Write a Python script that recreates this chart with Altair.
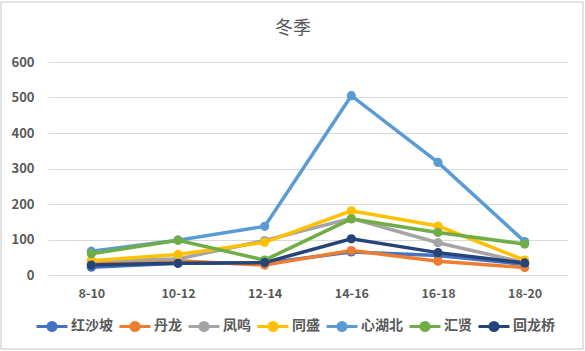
import altair as alt
import pandas as pd

periods = ["8-10", "10-12", "12-14", "14-16", "16-18", "18-20"]
series_names = ["红沙坡", "丹龙", "凤鸣", "同盛", "心湖北", "汇贤", "回龙桥"]
values = {
    "红沙坡": [22, 33, 33, 65, 55, 30],
    "丹龙": [30, 40, 28, 69, 39, 21],
    "凤鸣": [40, 45, 97, 160, 91, 35],
    "同盛": [40, 58, 92, 181, 138, 42],
    "心湖北": [67, 98, 137, 505, 317, 94],
    "汇贤": [60, 98, 42, 158, 120, 87],
    "回龙桥": [28, 33, 35, 102, 63, 34],
}
colors = ["#4472C4", "#ED7D31", "#A5A5A5", "#FFC000", "#5B9BD5", "#70AD47", "#264478"]

rows = []
for s in series_names:
    for i, (p, v) in enumerate(zip(periods, values[s])):
        rows.append({"时段": p, "序": i, "站点": s, "值": v})
df = pd.DataFrame(rows)

font = "Noto Sans CJK SC"
color_enc = alt.Color(
    "站点:N",
    scale=alt.Scale(domain=series_names, range=colors),
    sort=series_names,
    legend=alt.Legend(
        title=None,
        orient="none",
        direction="horizontal",
        legendX=-13,
        legendY=247,
        columns=7,
        symbolType="M-1,0H1 M-0.26,0A0.26,0.26 0 1,1 0.26,0A0.26,0.26 0 1,1 -0.26,0Z",
        symbolSize=960,
        symbolStrokeWidth=3,
        symbolOpacity=1,
        labelFont=font,
        labelFontSize=14,
        labelColor="#595959",
        labelFontWeight="bold",
        columnPadding=0,
        symbolOffset=0,
        labelOffset=2,
        padding=0,
    ),
)

x_enc = alt.X(
    "时段:N",
    sort=periods,
    scale=alt.Scale(domain=periods, paddingInner=0, paddingOuter=0.5),
    axis=alt.Axis(
        title=None, labelAngle=0, domain=False, ticks=False, grid=False,
        labelFont=font, labelFontSize=12.5, labelColor="#595959",
        labelFontWeight="bold", labelPadding=12,
    ),
)
y_enc = alt.Y(
    "值:Q",
    scale=alt.Scale(domain=[0, 600], nice=False),
    axis=alt.Axis(
        title=None, values=[0, 100, 200, 300, 400, 500, 600], domain=False,
        ticks=False, gridColor="#d9d9d9", gridWidth=1.2,
        labelFont=font, labelFontSize=13, labelColor="#595959",
        labelFontWeight="bold", labelPadding=14,
    ),
)

base = alt.Chart(df).encode(x=x_enc, y=y_enc, color=color_enc, order=alt.Order("序:Q"))
lines = base.mark_line(strokeWidth=3.5)
points = base.mark_point(filled=True, size=85, opacity=1)

frame = alt.Chart(pd.DataFrame({"a": [0]})).mark_rect(
    fill=None, stroke="#d9d9d9", strokeWidth=1.5
).encode(
    x=alt.value(-47), x2=alt.value(535), y=alt.value(-60), y2=alt.value(287)
)

chart = alt.layer(frame, lines, points).properties(
    width=520,
    height=213,
    title=alt.TitleParams("冬季", font=font, fontSize=18, color="#595959",
                          fontWeight="normal", anchor="middle", offset=-37, dx=-15),
    autosize=alt.AutoSizeParams(type="none"),
    padding={"left": 48, "top": 62, "right": 17, "bottom": 76},
    background="white",
).configure_view(stroke=None)

chart.save("out.html", embed_options={"renderer": "svg", "actions": False})
